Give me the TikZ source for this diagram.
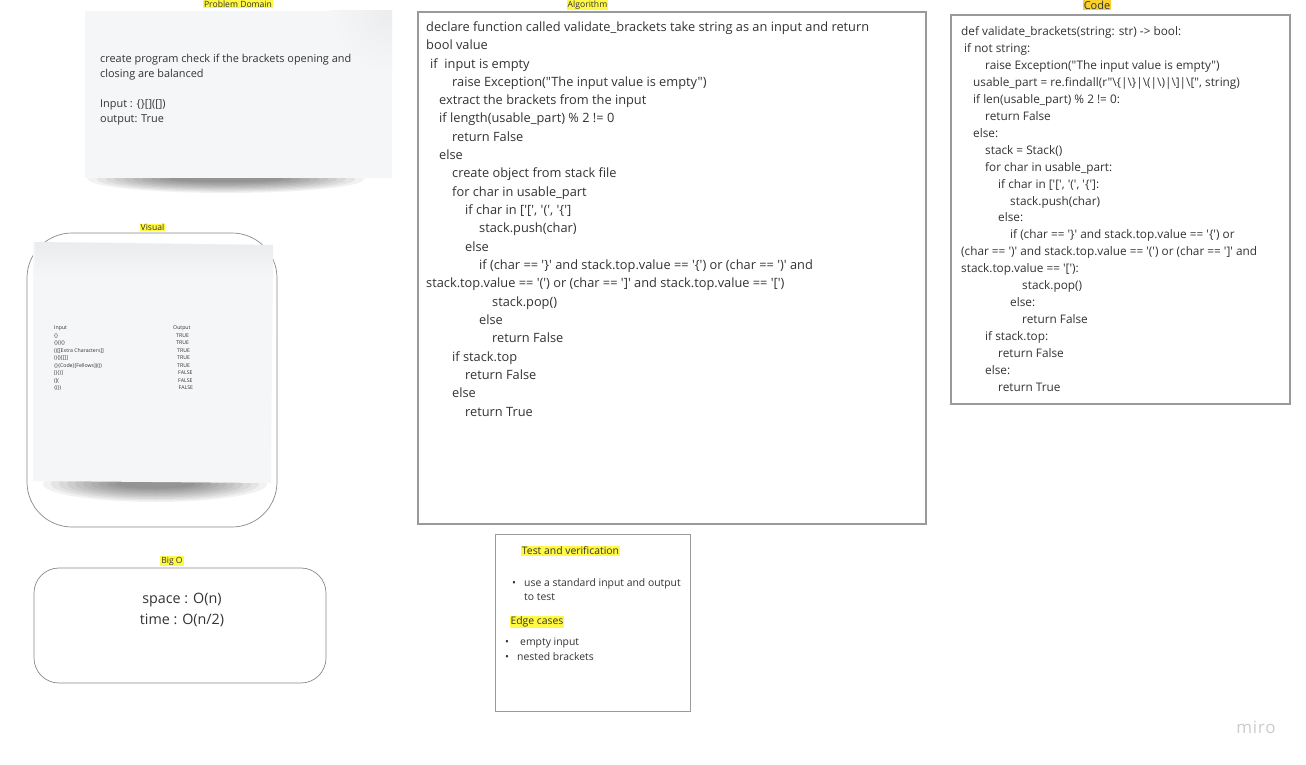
\documentclass[tikz,border=0pt]{standalone}
\usepackage{fontspec}
\setmainfont{Open Sans}[Ligatures=TeXOff]
\definecolor{txt}{HTML}{333333}
\definecolor{hl}{HTML}{FFF845}
\definecolor{hlcode}{HTML}{FAD02C}
\definecolor{card}{HTML}{F5F6F8}
\definecolor{cardtop}{HTML}{EBECEE}
\definecolor{bord}{HTML}{9A9A9A}
\definecolor{rbord}{HTML}{8A8A8A}
\tikzset{
  lbl/.style={fill=hl, text=txt, inner xsep=1pt, inner ysep=0.6pt, font=\fontsize{8.6}{10}\selectfont},
  alg/.style={anchor=base west, inner sep=0pt, text=txt, font=\fontsize{12.8}{15}\selectfont},
  cod/.style={anchor=base west, inner sep=0pt, text=txt, font=\fontsize{11.8}{14}\selectfont},
  prob/.style={anchor=base west, inner sep=0pt, text=txt, font=\fontsize{10.9}{13}\selectfont},
  tst/.style={anchor=base west, inner sep=0pt, text=txt, font=\fontsize{10.4}{12}\selectfont},
  vis/.style={anchor=base west, inner sep=0pt, text=txt, font=\fontsize{5.2}{6}\selectfont},
  bigo/.style={anchor=base, inner sep=0pt, text=txt, font=\fontsize{14.3}{17}\selectfont},
  box/.style={draw=bord, line width=1.1pt, fill=white},
  rbox/.style={draw=rbord, line width=0.7pt, fill=white},
}
\begin{document}
\begin{tikzpicture}[x=1pt,y=-1pt]
\path[use as bounding box] (0,0) rectangle (1306,765);
\clip (0,0) rectangle (1306,765);
\fill[white] (0,0) rectangle (1306,765);

% ---------- Problem Domain ----------
\foreach \i in {0,...,9}
  \fill[black, opacity=0.05] (226,179) ellipse ({138-9*\i} and {14-1.2*\i});
\fill[card] (85,11) rectangle (392,178);
\begin{scope}
  \clip (85,11) rectangle (392,178);
  \shade[inner color=cardtop, outer color=card] (392,11) circle (62);
\end{scope}
\node[lbl, anchor=north] (lpd) at (238,0) {Problem Domain};
\node[prob] (p1) at (100,63) {create program check if the brackets opening and};
\node[prob] (p2) at (100,78) {closing are balanced};
\node[prob] (p3) at (100,108) {Input : \{\}[]([])};
\node[prob] (p4) at (100,123) {output: True};

% ---------- Visual ----------
\draw[rbox, rounded corners=45pt] (27,233) rectangle (277,527);
\foreach \i in {0,...,9}
  \fill[black, opacity=0.05] (155,484) ellipse ({112-8*\i} and {18-1.5*\i});
\fill[card] (33,242) -- (273,245) -- (271,483) -- (33,481) -- cycle;
\shade[top color=cardtop, bottom color=card] (35,242) -- (273,245) -- (273,278) -- (35,278) -- cycle;
\node[lbl] (lvis) at (152.5,227.5) {Visual};
\node[vis] (v0) at (54,329) {Input};
\node[vis] (v0o) at (173,329) {Output};
\node[vis] (v1) at (54,337) {\{\}};
\node[vis] (v1o) at (176,337) {TRUE};
\node[vis] (v2) at (54,344.5) {\{\}()\{\}};
\node[vis] (v2o) at (176,344.5) {TRUE};
\node[vis] (v3) at (54,352) {()[[Extra Characters]]};
\node[vis] (v3o) at (177,352) {TRUE};
\node[vis] (v4) at (54,359.5) {()\{\}[[]]};
\node[vis] (v4o) at (177,359.5) {TRUE};
\node[vis] (v5) at (54,367) {\{\}\{Code\}[Fellows](())};
\node[vis] (v5o) at (177,367) {TRUE};
\node[vis] (v6) at (54,374.5) {[(\{\}]};
\node[vis] (v6o) at (178,374.5) {FALSE};
\node[vis] (v7) at (54,382) {(](};
\node[vis] (v7o) at (178,382) {FALSE};
\node[vis] (v8) at (54,389.5) {\{(\})};
\node[vis] (v8o) at (178.5,389.5) {FALSE};

% ---------- Big O ----------
\draw[rbox, rounded corners=25pt] (34,568) rectangle (326,683);
\node[lbl] (lbig) at (172,561) {Big O};
\node[bigo] (b1) at (182,603) {space : O(n)};
\node[bigo] (b2) at (182,624) {time : O(n/2)};

% ---------- Algorithm ----------
\draw[box] (418,12) rectangle (926,524);
\node[lbl, anchor=north] (lalg) at (587.5,0) {Algorithm};
\node[alg] (a1) at (426,31.5) {declare function called validate\_brackets take string as an input and return};
\node[alg] (a2) at (426,49.5) {bool value};
\node[alg] (a3) at (430,68.5) {if\ \ input is empty};
\node[alg] (a4) at (452,86.5) {raise Exception("The input value is empty")};
\node[alg] (a5) at (439,104.5) {extract the brackets from the input};
\node[alg] (a6) at (439,122.5) {if length(usable\_part) \% 2 != 0};
\node[alg] (a7) at (452,141.5) {return False};
\node[alg] (a8) at (439,159.5) {else};
\node[alg] (a9) at (452,177.5) {create object from stack file};
\node[alg] (a10) at (452,196.5) {for char in usable\_part};
\node[alg] (a11) at (465,214.5) {if char in ['[', '(', '\{']};
\node[alg] (a12) at (479,232.5) {stack.push(char)};
\node[alg] (a13) at (465,251.5) {else};
\node[alg] (a14) at (479,269.5) {if (char == '\}' and stack.top.value == '\{') or (char == ')' and};
\node[alg] (a15) at (426,287.5) {stack.top.value == '(') or (char == ']' and stack.top.value == '[')};
\node[alg] (a16) at (492,306.5) {stack.pop()};
\node[alg] (a17) at (479,324.5) {else};
\node[alg] (a18) at (492,342.5) {return False};
\node[alg] (a19) at (452,361.5) {if stack.top};
\node[alg] (a20) at (465,379.5) {return False};
\node[alg] (a21) at (452,397.5) {else};
\node[alg] (a22) at (465,416.5) {return True};

% ---------- Code ----------
\draw[box] (951,15) rectangle (1290,404);
\node[lbl, anchor=north, fill=hlcode, font=\fontsize{11}{12}\selectfont] (lcode) at (1097,0) {Code};
\node[cod] (c1) at (961,35.2) {def validate\_brackets(string: str) -> bool:};
\node[cod] (c2) at (964,52.2) {if not string:};
\node[cod] (c3) at (985,69.2) {raise Exception("The input value is empty")};
\node[cod] (c4) at (973,86.2) {usable\_part = re.findall(r"\textbackslash\{|\textbackslash\}|\textbackslash(|\textbackslash)|\textbackslash]|\textbackslash[", string)};
\node[cod] (c5) at (973,103.2) {if len(usable\_part) \% 2 != 0:};
\node[cod] (c6) at (985,120.2) {return False};
\node[cod] (c7) at (973,137.2) {else:};
\node[cod] (c8) at (985,154.2) {stack = Stack()};
\node[cod] (c9) at (985,171.2) {for char in usable\_part:};
\node[cod] (c10) at (998,188.2) {if char in ['[', '(', '\{']:};
\node[cod] (c11) at (1010,205.2) {stack.push(char)};
\node[cod] (c12) at (998,221.2) {else:};
\node[cod] (c13) at (1010,238.2) {if (char == '\}' and stack.top.value == '\{') or};
\node[cod] (c14) at (961,255.2) {(char == ')' and stack.top.value == '(') or (char == ']' and};
\node[cod] (c15) at (961,272.2) {stack.top.value == '['):};
\node[cod] (c16) at (1022,289.2) {stack.pop()};
\node[cod] (c17) at (1010,306.2) {else:};
\node[cod] (c18) at (1022,323.2) {return False};
\node[cod] (c19) at (985,340.2) {if stack.top:};
\node[cod] (c20) at (998,357.2) {return False};
\node[cod] (c21) at (985,374.2) {else:};
\node[cod] (c22) at (998,391.2) {return True};

% ---------- Test and verification ----------
\draw[draw=bord, line width=1pt, fill=white] (495,534) rectangle (690,711);
\node[lbl, font=\fontsize{10.4}{12}\selectfont] (ltest) at (570.5,551) {Test and verification};
\node[tst] (tb1) at (512,586.7) {\textbullet};
\node[tst] (t1) at (524,586.7) {use a standard input and output};
\node[tst] (t2) at (524,600.7) {to test};
\node[lbl, font=\fontsize{10.4}{12}\selectfont] (ledge) at (537,622) {Edge cases};
\node[tst] (tb2) at (505,645.7) {\textbullet};
\node[tst] (t3) at (520,645.7) {empty input};
\node[tst] (tb3) at (505,660.7) {\textbullet};
\node[tst] (t4) at (517,660.7) {nested brackets};

% ---------- miro ----------
\node[text=black!20, font=\fontsize{17}{18}\selectfont, inner sep=0pt] (miro) at (1256,727) {m\kern0.6pt i\kern0.6pt r\kern0.6pt o};
\end{tikzpicture}
\end{document}
